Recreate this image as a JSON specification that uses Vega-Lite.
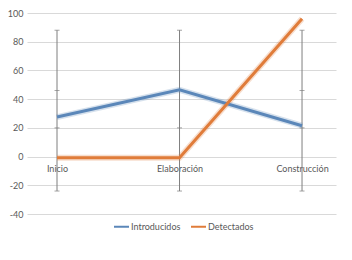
{
  "$schema": "https://vega.github.io/schema/vega-lite/v6.json",
  "width": 309,
  "height": 201,
  "autosize": "none",
  "padding": {"left": 27, "top": 13, "right": 16, "bottom": 46},
  "background": "white",
  "config": {
    "view": {"stroke": null},
    "font": "Lato",
    "axis": {"labelFont": "Lato", "labelColor": "#595959", "labelFontSize": 9},
    "legend": {"labelFont": "Lato", "labelColor": "#595959", "labelFontSize": 9}
  },
  "datasets": {
    "series": [
      {"cat": "Inicio", "serie": "Introducidos", "v": 27.5},
      {"cat": "Elaboración", "serie": "Introducidos", "v": 46.5},
      {"cat": "Construcción", "serie": "Introducidos", "v": 21.5},
      {"cat": "Inicio", "serie": "Detectados", "v": -0.8},
      {"cat": "Elaboración", "serie": "Detectados", "v": -0.8},
      {"cat": "Construcción", "serie": "Detectados", "v": 96}
    ],
    "ranges": [
      {"cat": "Inicio", "low": -24, "high": 88},
      {"cat": "Elaboración", "low": -24, "high": 88},
      {"cat": "Construcción", "low": -24, "high": 88}
    ],
    "marks": [
      {"cat": "Inicio", "v": 88}, {"cat": "Inicio", "v": 46}, {"cat": "Inicio", "v": 20}, {"cat": "Inicio", "v": -24},
      {"cat": "Elaboración", "v": 88}, {"cat": "Elaboración", "v": 46}, {"cat": "Elaboración", "v": 20}, {"cat": "Elaboración", "v": -24},
      {"cat": "Construcción", "v": 88}, {"cat": "Construcción", "v": 46}, {"cat": "Construcción", "v": 20}, {"cat": "Construcción", "v": -24}
    ]
  },
  "encoding": {
    "x": {
      "field": "cat", "type": "ordinal", "sort": null,
      "scale": {"type": "point", "domain": ["Inicio", "Elaboración", "Construcción"], "padding": 0.2612, "align": 0.469},
      "axis": {"title": null, "orient": "bottom", "offset": -57.4, "domain": false, "ticks": false, "labelAngle": 0, "labelPadding": 8, "grid": false}
    }
  },
  "layer": [
    {
      "data": {"name": "ranges"},
      "mark": {"type": "rule", "color": "#7f7f7f", "strokeWidth": 1},
      "encoding": {
        "y": {
          "field": "low", "type": "quantitative",
          "scale": {"domain": [-40, 100], "nice": false, "zero": false},
          "axis": {"title": null, "values": [-40, -20, 0, 20, 40, 60, 80, 100], "labelExpr": "'' + datum.value", "domain": false, "ticks": false, "grid": true, "gridColor": "#d9d9d9", "gridWidth": 1, "labelPadding": 4, "labelOverlap": false}
        },
        "y2": {"field": "high"}
      }
    },
    {
      "data": {"name": "marks"},
      "mark": {"type": "tick", "color": "#7f7f7f", "size": 5, "thickness": 1, "orient": "horizontal"},
      "encoding": {"y": {"field": "v", "type": "quantitative",
          "axis": {"title": null, "values": [-40, -20, 0, 20, 40, 60, 80, 100], "labelExpr": "'' + datum.value", "domain": false, "ticks": false, "grid": true, "gridColor": "#d9d9d9", "gridWidth": 1, "labelPadding": 4, "labelOverlap": false}}}
    },
    {
      "data": {"name": "series"},
      "mark": {"type": "line", "strokeWidth": 6, "opacity": 0.25},
      "encoding": {
        "y": {"field": "v", "type": "quantitative",
          "axis": {"title": null, "values": [-40, -20, 0, 20, 40, 60, 80, 100], "labelExpr": "'' + datum.value", "domain": false, "ticks": false, "grid": true, "gridColor": "#d9d9d9", "gridWidth": 1, "labelPadding": 4, "labelOverlap": false}},
        "color": {"field": "serie", "type": "nominal",
          "scale": {"domain": ["Introducidos", "Detectados"], "range": ["#5b87b9", "#e07c3a"]},
          "legend": {"title": null, "orient": "none", "legendX": 86, "legendY": 205, "direction": "horizontal",
            "symbolType": "stroke", "symbolSize": 225, "symbolStrokeWidth": 2, "symbolOpacity": 1, "labelOffset": 1, "columnPadding": 6, "padding": 0}},
        "detail": {"field": "serie"}
      }
    },
    {
      "data": {"name": "series"},
      "mark": {"type": "line", "strokeWidth": 3},
      "encoding": {
        "y": {"field": "v", "type": "quantitative",
          "axis": {"title": null, "values": [-40, -20, 0, 20, 40, 60, 80, 100], "labelExpr": "'' + datum.value", "domain": false, "ticks": false, "grid": true, "gridColor": "#d9d9d9", "gridWidth": 1, "labelPadding": 4, "labelOverlap": false}},
        "color": {
          "field": "serie", "type": "nominal",
          "scale": {"domain": ["Introducidos", "Detectados"], "range": ["#5b87b9", "#e07c3a"]},
          "legend": {"title": null, "orient": "none", "legendX": 86, "legendY": 205, "direction": "horizontal",
            "symbolType": "stroke", "symbolSize": 225, "symbolStrokeWidth": 2, "symbolOpacity": 1, "labelOffset": 1, "columnPadding": 6, "padding": 0}
        }
      }
    }
  ]
}
